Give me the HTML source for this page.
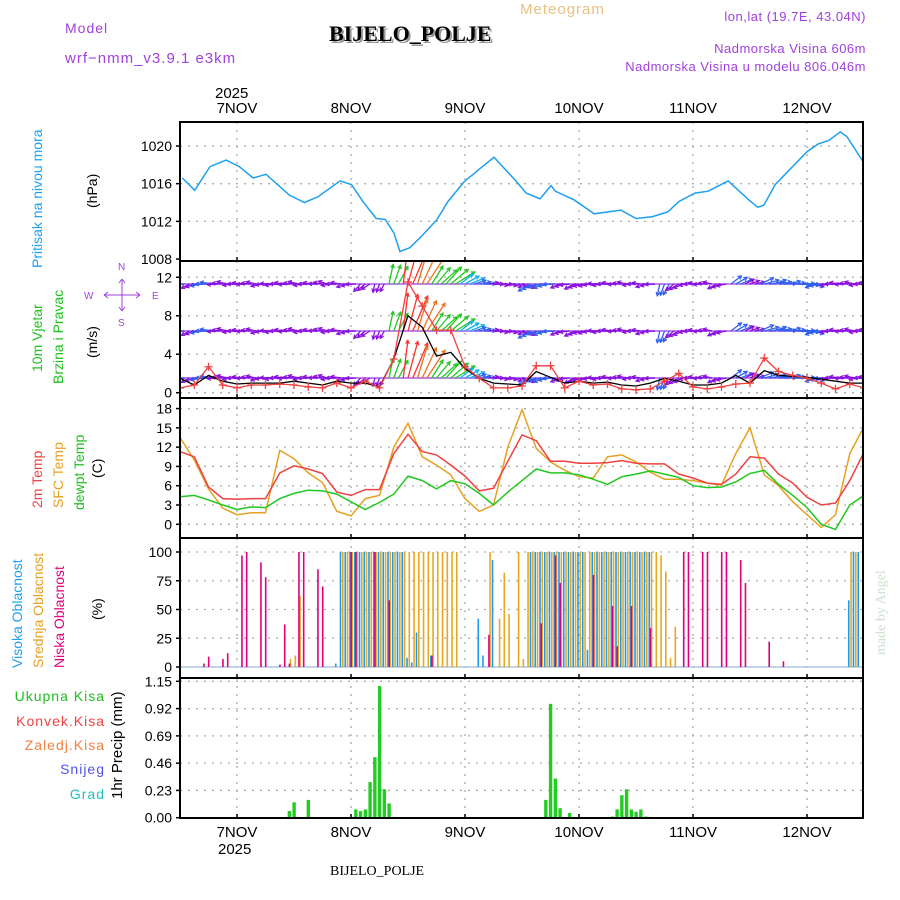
<!DOCTYPE html>
<html><head><meta charset="utf-8"><style>
html,body{margin:0;padding:0;background:#fff;}
svg{display:block;font-family:"Liberation Sans",sans-serif;}
</style></head><body>
<svg id="chart" width="900" height="900" viewBox="0 0 900 900">
<text x="65" y="33" font-size="14" fill="#a040e0" letter-spacing="1">Model</text>
<text x="65" y="63" font-size="15" fill="#a040e0" letter-spacing="1">wrf−nmm_v3.9.1 e3km</text>
<text x="520" y="14" font-size="15" fill="#e8c080" letter-spacing="1">Meteogram</text>
<text x="331" y="43" font-size="22" font-weight="bold" font-family="Liberation Serif,serif" fill="#999">BIJELO_POLJE</text>
<text x="329" y="41" font-size="22" font-weight="bold" font-family="Liberation Serif,serif" fill="#000">BIJELO_POLJE</text>
<text x="866" y="21" font-size="13" fill="#a040e0" text-anchor="end" letter-spacing="0.5">lon,lat (19.7E, 43.04N)</text>
<text x="866" y="53" font-size="13" fill="#a040e0" text-anchor="end" letter-spacing="0.5">Nadmorska Visina 606m</text>
<text x="866" y="71" font-size="13" fill="#a040e0" text-anchor="end" letter-spacing="0.5">Nadmorska Visina u modelu 806.046m</text>
<text x="215" y="98" font-size="15" fill="#000">2025</text>
<text x="218" y="854" font-size="15" fill="#000">2025</text>
<text x="330" y="875" font-size="14" font-family="Liberation Serif,serif" fill="#000">BIJELO_POLJE</text>
<text transform="translate(885,655) rotate(-90)" font-size="14" font-family="Liberation Serif,serif" fill="#cfe0cf">made by Angel</text>

<text transform="translate(42,268) rotate(-90)" font-size="14" fill="#20a0f0">Pritisak na nivou mora</text>
<text transform="translate(97,208) rotate(-90)" font-size="14" fill="#000">(hPa)</text>
<text transform="translate(42,372) rotate(-90)" font-size="14" fill="#20c020">10m Vjetar</text>
<text transform="translate(63,384) rotate(-90)" font-size="14" fill="#20c020">Brzina i Pravac</text>
<text transform="translate(97,358) rotate(-90)" font-size="14" fill="#000">(m/s)</text>
<g fill="#a040e0" font-size="10" stroke="none">
<text x="118" y="270">N</text>
<text x="84" y="299">W</text>
<text x="152" y="299">E</text>
<text x="118" y="326">S</text>
<path d="M104,295H140M122,279V311M104,295l4,-3M104,295l4,3M140,295l-4,-3M140,295l-4,3M122,279l-3,4M122,279l3,4M122,311l-3,-4M122,311l3,-4" stroke="#a040e0" stroke-width="1" fill="none"/>
</g>
<text transform="translate(42,508) rotate(-90)" font-size="14" fill="#f04040">2m Temp</text>
<text transform="translate(63,508) rotate(-90)" font-size="14" fill="#e8a020">SFC Temp</text>
<text transform="translate(84,510) rotate(-90)" font-size="14" fill="#20c020">dewpt Temp</text>
<text transform="translate(102,478) rotate(-90)" font-size="14" fill="#000">(C)</text>
<text transform="translate(22,668) rotate(-90)" font-size="14" fill="#20a0f0">Visoka Oblacnost</text>
<text transform="translate(43,668) rotate(-90)" font-size="14" fill="#e8a020">Srednja Oblacnost</text>
<text transform="translate(64,668) rotate(-90)" font-size="14" fill="#e0007f">Niska Oblacnost</text>
<text transform="translate(102,620) rotate(-90)" font-size="14" fill="#000">(%)</text>
<text x="105" y="701" font-size="14" fill="#20c020" text-anchor="end" letter-spacing="1">Ukupna Kisa</text>
<text x="105" y="726" font-size="14" fill="#f04040" text-anchor="end" letter-spacing="1">Konvek.Kisa</text>
<text x="105" y="750" font-size="14" fill="#f08040" text-anchor="end" letter-spacing="1">Zaledj.Kisa</text>
<text x="105" y="774" font-size="14" fill="#5050f0" text-anchor="end" letter-spacing="1">Snijeg</text>
<text x="105" y="799" font-size="14" fill="#20c0c0" text-anchor="end" letter-spacing="1">Grad</text>
<text transform="translate(122,799) rotate(-90)" font-size="15" fill="#000">1hr Precip (mm)</text>
<g id="g"></g>
</svg>
<script>
// times: hours since 6 Nov 12:00
const presT=[0.5,3.1,6.3,9.7,12.5,15.4,18.1,23,26.2,29,33.7,36.1,38.5,41.3,43.2,45,46.3,48.4,51.2,54.1,56.4,59.8,62.9,66.1,70.5,72.9,75.8,78.1,79,82.9,87.2,92.8,96,99.4,102.7,105,108.4,111.2,115.4,119.7,121.6,122.9,125.3,132,134.3,136.6,139,140.4,144];
const presV=[1016.6,1015.3,1017.8,1018.5,1017.8,1016.6,1017,1014.8,1014,1014.6,1016.3,1015.9,1014.1,1012.3,1012.2,1010.8,1008.8,1009.2,1010.6,1012.2,1014.1,1016.2,1017.5,1018.8,1016.4,1015,1014.4,1015.8,1015.2,1014.3,1012.8,1013.2,1012.3,1012.5,1013,1014.1,1015,1015.2,1016.3,1014.3,1013.5,1013.7,1015.9,1019.4,1020.2,1020.6,1021.5,1021,1018.2];
const hours3=[0,3,6,9,12,15,18,21,24,27,30,33,36,39,42,45,48,51,54,57,60,63,66,69,72,75,78,81,84,87,90,93,96,99,102,105,108,111,114,117,120,123,126,129,132,135,138,141,144];
const t2m=[11.3,10.5,5.8,4.0,3.9,4.0,4.0,8.0,9.1,8.6,7.9,5.0,4.5,5.4,5.4,11,14.0,11.3,10.8,9.2,7.5,5.2,5.6,9.8,13.9,13,9.8,9.8,9.5,9.5,9.6,9.9,9.5,9.4,9.4,7.8,7.2,6.4,6.2,7.8,10.5,10.3,7.8,6.4,4.2,3.0,3.3,6.8,11.2];
const tsfc=[13.5,10,5.5,2.5,1.5,1.8,1.8,11.5,10.2,8,6.5,2.0,1.3,4.0,4.5,12,15.7,10.5,9.2,7.7,4.0,2.0,3.0,12,17.8,11.8,9.7,8.4,7.4,7.2,10.5,10.8,9.7,8.1,7.0,7.0,6.8,6.4,6.1,11,15.0,7.7,6.0,3.5,1.5,-0.5,1.5,11,15.2];
const tdew=[4.3,4.5,3.8,3.0,2.3,2.7,2.6,4.0,4.8,5.3,5.2,4.7,3.5,2.3,3.4,4.7,7.5,6.8,5.5,6.8,6.3,4.8,3.0,5.0,6.8,8.6,8.0,8.0,7.7,7.0,6.2,7.4,7.8,8.3,7.8,7.3,6.0,5.7,5.8,6.6,7.9,8.4,6.2,4.5,2.6,0.0,-0.8,3.0,4.5];
const windSpd=[1.5,0.8,1.8,1.2,0.9,1.0,1.0,1.0,1.2,1.0,0.8,1.2,1.0,1.0,0.6,3.5,8.0,6.8,3.8,4.2,2.5,1.5,1.0,0.9,0.8,2.2,1.6,1.0,1.2,1.0,1.1,0.8,0.7,1.0,1.5,1.2,0.8,0.8,1.0,1.8,1.0,2.3,1.8,1.7,1.6,1.4,1.2,1.0,1.0];
const windGust=[0.5,0.8,2.7,0.8,0.5,0.8,0.8,0.9,0.8,0.6,0.5,1.0,0.5,1.2,0.5,3.5,11.5,9.0,6.5,6.5,2.7,1.5,0.5,0.5,0.7,2.8,2.8,0.5,1.2,0.8,0.9,0.4,0.3,0.4,1.2,2.0,0.6,0.4,0.6,0.9,1.0,3.6,2.2,1.8,1.5,1.0,0.4,0.9,0.5];
const windDir=[260,250,270,275,270,275,265,270,275,270,280,270,260,230,200,20,15,25,40,50,60,80,90,100,110,250,260,255,250,265,270,275,270,260,200,240,270,275,250,60,70,75,80,85,95,260,270,275,270];
const lowH=[5,6,9,10,13,14,17,18,21,22,23,25,26,29,30,36,37,41,44,53,65,76,79,80,87,91,92,95,99,106,107,110,111,114,115,118,119,124,127];
const lowV=[3,9,7,12,97,100,91,78,2,37,3,100,100,85,70,100,100,100,58,10,28,38,97,73,80,53,18,53,34,100,100,100,100,100,100,93,73,22,5];
const midH=[23,24,25,34,35,36,37,38,39,40,41,42,43,44,45,46,47,48,49,50,51,52,53,54,55,56,57,58,65,67,68,69,71,72,73,74,75,76,77,78,79,80,81,82,83,84,85,86,87,88,89,90,91,92,93,94,95,96,97,98,99,100,101,102,103,104,141,142,144];
const midV=[7,10,62,100,100,100,100,100,100,100,100,100,100,100,100,100,100,100,100,100,100,100,100,100,100,100,100,100,100,42,82,46,100,7,100,100,100,100,100,100,100,100,100,100,100,100,100,100,100,100,100,100,100,100,100,100,100,100,100,100,100,100,97,83,8,35,100,100,100];
const highH=[33,34,35,36,37,38,39,40,41,42,43,44,45,46,47,48,49,50,53,63,64,66,74,75,76,77,78,79,80,81,82,83,84,85,86,87,88,89,90,91,92,93,94,95,96,97,98,99,141,142,143];
const highV=[3,100,100,100,100,100,100,100,100,100,100,100,100,100,100,8,4,30,10,42,10,93,100,100,100,100,100,100,100,100,100,100,100,100,15,100,100,100,100,100,100,100,100,100,100,100,100,100,58,100,100];
const precH=[23,24,27,37,38,39,40,41,42,43,44,77,78,79,80,82,91,92,93,94,95,96,97,98];
const precV=[0.056,0.13,0.15,0.07,0.056,0.07,0.30,0.51,1.11,0.24,0.12,0.15,0.96,0.33,0.08,0.04,0.01,0.07,0.19,0.24,0.07,0.05,0.07,0.01];
const dayLabels=['7NOV','8NOV','9NOV','10NOV','11NOV','12NOV'];
const dayHours=[12,36,60,84,108,132];
const presTicks=[1008,1012,1016,1020];
const windTicks=[0,4,8,12];
const tempTicks=[0,3,6,9,12,15,18];
const cloudTicks=[0,25,50,75,100];
const precTicks=[0,0.23,0.46,0.69,0.92,1.15];

const NS='http://www.w3.org/2000/svg';
const G=document.getElementById('g');
const X0=180,X1=863;
const xS=t=>X0+t*4.75;
const yP=p=>146+(1020-p)*9.42;
const yW=v=>392.7-v*9.62;
const yT=v=>524.3-v*6.43;
const yC=v=>667-v*1.15;
const yR=v=>817.7-v*118.6;
function mk(tag,attrs,parent){const e=document.createElementNS(NS,tag);for(const k in attrs)e.setAttribute(k,attrs[k]);(parent||G).appendChild(e);return e;}
const panels=[
 {name:'pressure',top:122,bot:261,ticks:presTicks,y:yP,fmt:v=>v},
 {name:'wind',top:261,bot:398,ticks:windTicks,y:yW,fmt:v=>v},
 {name:'temp',top:398,bot:538,ticks:tempTicks,y:yT,fmt:v=>v},
 {name:'cloud',top:538,bot:678,ticks:cloudTicks,y:yC,fmt:v=>v},
 {name:'precip',top:678,bot:818,ticks:precTicks,y:yR,fmt:v=>v.toFixed(2)}
];
const defs=mk('defs',{});
panels.forEach(p=>{const c=mk('clipPath',{id:'clip-'+p.name},defs);mk('rect',{x:X0,y:p.top,width:X1-X0,height:p.bot-p.top},c);});
panels.forEach(p=>{
 const g=mk('g',{});
 
 
 p.ticks.forEach(v=>{
  const y=p.y(v);
  if(y>p.top+3&&y<p.bot-3){mk('line',{x1:X0,x2:X1,y1:y,y2:y,stroke:'#aaa','stroke-width':1.3,'stroke-dasharray':'2,6'},g);}
  mk('line',{x1:X0-4,x2:X0,y1:y,y2:y,stroke:'#000','stroke-width':1.5},g);
  const t=mk('text',{x:X0-8,y:y+5,'font-size':14,'text-anchor':'end',fill:'#000'},g);
  t.textContent=p.fmt(v);
  
  
 });
 dayHours.forEach(h=>{const x=xS(h);mk('line',{x1:x,x2:x,y1:p.top,y2:p.bot,stroke:'#aaa','stroke-width':1.3,'stroke-dasharray':'2,6'},g);
  mk('line',{x1:x,x2:x,y1:p.bot-4,y2:p.bot,stroke:'#000','stroke-width':1.5},g);});
});
dayLabels.forEach((d,i)=>{
 const x=xS(dayHours[i]);
 const a=mk('text',{x:x,y:113,'font-size':15,'text-anchor':'middle',fill:'#000'});a.textContent=d;
 
 
 const b=mk('text',{x:x,y:837,'font-size':15,'text-anchor':'middle',fill:'#000'});b.textContent=d;
 
 
});
function line(ts,vs,yf,color,name,clip,w){
 const pts=ts.map((t,i)=>xS(t).toFixed(1)+','+yf(vs[i]).toFixed(1)).join(' ');
 const p=mk('polyline',{points:pts,fill:'none',stroke:color,'stroke-width':w||1.5,'clip-path':'url(#clip-'+clip+')'});
 
 
 return p;
}
line(presT,presV,yP,'#1ea0f0','pressure-line','pressure');
const wg=mk('g',{'clip-path':'url(#clip-wind)'});


function wcol(s){return s<1.4?'#8a10e0':s<2.5?'#3060f0':s<3.2?'#10b0f0':s<4.5?'#20c820':s<6?'#e0a020':s<7?'#f07020':'#ff3030';}
[284,331,378].forEach(by=>{
 mk('line',{x1:X0,x2:X1,y1:by,y2:by,stroke:'#9a30e8','stroke-width':2,opacity:0.6},wg);
 hours3.forEach((t,i)=>{
  for(let k=-1;k<=1;k++){
  const s=windSpd[i],d=(windDir[i]+k*8)*Math.PI/180,L=6+4*s;
  const x=xS(t)+k*4.75,dx=Math.sin(d)*L,dy=-Math.cos(d)*L;
  const c=wcol(s);
  const a=mk('line',{x1:x,y1:by,x2:x+dx,y2:by+dy,stroke:c,'stroke-width':1.3},wg);
  
  
  const hx=x+dx,hy=by+dy,ang=Math.atan2(dy,dx);
  mk('polyline',{points:`${hx-4*Math.cos(ang-0.5)},${hy-4*Math.sin(ang-0.5)} ${hx},${hy} ${hx-4*Math.cos(ang+0.5)},${hy-4*Math.sin(ang+0.5)}`,fill:'none',stroke:c,'stroke-width':1.2},wg);
  }
 });
});
line(hours3,windSpd,yW,'#000','wind-speed-line','wind',1.3);
line(hours3,windGust,yW,'#f04040','wind-gust-line','wind',1.3);
hours3.forEach((t,i)=>{const x=xS(t),y=yW(windGust[i]);
 const p=mk('path',{d:`M${x-4},${y}H${x+4}M${x},${y-4}V${y+4}`,stroke:'#f04040','stroke-width':1.3,'clip-path':'url(#clip-wind)'});
 
 });
line(hours3,tsfc,yT,'#e8a020','sfc-temp-line','temp');
line(hours3,t2m,yT,'#f04040','temp-2m-line','temp');
line(hours3,tdew,yT,'#20c820','dewpoint-line','temp');
function bars(hs,vs,off,color,name){hs.forEach((h,i)=>{const x=xS(h)+off,y=yC(vs[i]);
 const r=mk('rect',{x:x,y:y,width:1.6,height:yC(0)-y,fill:color,'clip-path':'url(#clip-cloud)'});
 
 });}
mk('line',{x1:X0,x2:X1,y1:yC(0),y2:yC(0),stroke:'#b0c8e0','stroke-width':1.5});
bars(midH,midV,0.5,'#e8a820','mid-cloud-bar');
bars(highH,highV,-1.8,'#1e9bf0','high-cloud-bar');
bars(lowH,lowV,-0.6,'#e0007f','low-cloud-bar');
precH.forEach((h,i)=>{const x=xS(h)-1.6,y=yR(precV[i]);
 const r=mk('rect',{x:x,y:y,width:3.4,height:yR(0)-y,fill:'#22cc22'});
 
 });
panels.forEach(p=>{const r=mk('rect',{x:X0,y:p.top,width:X1-X0,height:p.bot-p.top,fill:'none',stroke:'#000','stroke-width':2});
 
 });
</script>
</body></html>
